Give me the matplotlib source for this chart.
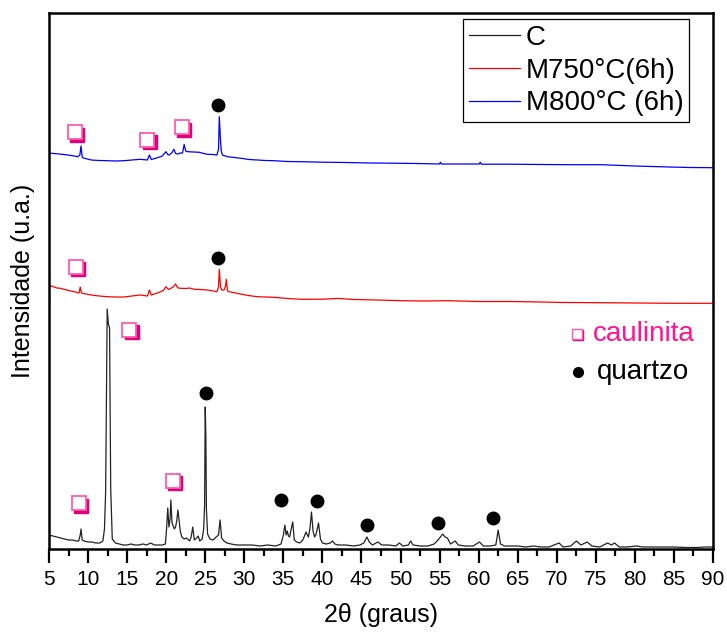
import matplotlib
matplotlib.use('Agg')
import matplotlib.pyplot as plt
from matplotlib.transforms import offset_copy
from matplotlib.ticker import MultipleLocator

plt.rcParams['font.family'] = ['Liberation Sans', 'DejaVu Sans']

# ---------------- data (2theta, intensity in arbitrary offset units) -------------
c_pts = [
    (5.0, 14), (5.5, 13), (6.0, 12), (6.5, 11), (7.0, 10), (7.5, 9), (8.0, 9), (8.5, 8), (8.8, 8), (9.0, 14),
    (9.1, 20), (9.25, 9), (9.5, 8), (10.0, 7), (10.5, 7), (11.0, 6), (11.5, 6), (11.9, 8), (12.1, 20), (12.25, 57),
    (12.45, 240), (12.6, 225), (12.75, 221), (12.9, 60), (13.1, 10), (13.5, 6), (14.0, 5), (14.5, 4), (15.0, 4), (15.5, 5),
    (16.0, 4), (16.5, 4), (17.0, 5), (17.5, 4), (18.0, 6), (18.5, 4), (19.0, 4), (19.5, 4), (19.9, 5), (20.05, 20),
    (20.2, 41), (20.35, 22), (20.5, 30), (20.6, 49), (20.75, 26), (20.9, 23), (21.05, 20), (21.2, 22), (21.35, 28), (21.5, 39),
    (21.65, 29), (21.8, 18), (22.0, 12), (22.3, 10), (22.6, 11), (23.0, 8), (23.2, 12), (23.4, 22), (23.6, 9), (23.9, 11),
    (24.1, 13), (24.3, 8), (24.6, 10), (24.8, 20), (24.92, 44), (25.0, 142), (25.08, 112), (25.15, 40), (25.3, 15), (25.6, 10),
    (26.0, 9), (26.4, 12), (26.7, 14), (26.9, 29), (27.1, 11), (27.4, 8), (27.8, 6), (28.3, 5), (29.0, 4), (30.0, 4),
    (31.0, 4), (32.0, 3), (33.0, 4), (34.0, 3), (34.7, 5), (35.0, 14), (35.2, 24), (35.35, 14), (35.5, 18), (35.65, 13),
    (35.8, 12), (36.0, 20), (36.2, 27), (36.4, 9), (36.7, 7), (37.1, 6), (37.5, 9), (37.9, 17), (38.2, 12), (38.4, 20),
    (38.6, 37), (38.8, 18), (39.0, 12), (39.2, 15), (39.5, 26), (39.75, 10), (40.0, 6), (40.5, 5), (41.0, 6), (41.3, 8),
    (41.6, 5), (42.0, 4), (43.0, 4), (44.0, 3), (44.8, 4), (45.3, 6), (45.7, 12), (46.0, 7), (46.4, 4), (47.1, 7),
    (47.6, 4), (48.5, 4), (49.4, 3), (49.85, 6), (50.3, 3), (51.0, 4), (51.3, 8), (51.6, 4), (52.5, 3), (53.5, 3),
    (54.3, 5), (54.8, 9), (55.2, 13), (55.4, 15), (55.7, 12), (56.0, 11), (56.4, 5), (57.0, 8), (57.4, 4), (58.3, 3),
    (59.3, 3), (60.1, 7), (60.6, 3), (61.5, 3), (62.2, 4), (62.5, 19), (62.8, 5), (63.3, 3), (64.0, 3), (65.0, 3),
    (66.0, 2), (67.0, 3), (68.0, 2), (69.0, 2), (70.3, 6), (70.8, 2), (71.8, 3), (72.5, 8), (73.1, 4), (73.9, 7),
    (74.5, 3), (75.5, 2), (76.5, 6), (77.0, 4), (77.4, 6), (78.0, 2), (79.0, 2), (80.2, 3), (81.0, 2), (82.0, 2),
    (83.5, 2), (85.0, 2), (86.5, 1.5), (88.0, 1.5), (89.0, 2), (90.0, 2),
]

m750_pts = [
    (5.0, 263), (5.3, 263), (6.0, 261), (6.5, 260.7), (7.0, 259.5), (7.5, 258.5), (8.2, 257.3), (8.85, 256), (9.0, 262), (9.15, 256),
    (9.4, 255.5), (10.4, 254), (11.4, 253), (12.5, 252.3), (13.5, 252), (14.6, 252), (15.6, 253), (16.7, 254), (17.6, 253), (17.85, 259),
    (18.1, 254), (18.7, 255.5), (19.3, 257.3), (19.7, 259), (19.97, 262.3), (20.3, 259.5), (20.6, 260.7), (20.9, 262), (21.2, 265), (21.5, 261),
    (21.9, 260.7), (22.5, 260.5), (23.0, 261), (23.6, 259.7), (24.3, 259.5), (25.3, 259), (26.0, 258), (26.5, 257.3), (26.7, 262), (26.8, 279.7),
    (26.95, 263), (27.1, 259), (27.4, 259), (27.6, 263), (27.7, 269.7), (27.85, 258), (28.2, 257), (28.7, 256.3), (29.5, 255), (30.5, 253.5),
    (31.7, 252.3), (32.7, 252), (33.8, 251.7), (35.5, 250.5), (37.3, 249.7), (40.0, 249.8), (42.0, 250.6), (44.0, 249.5), (47.0, 249), (50.1, 248.3),
    (53.0, 248), (56.0, 248.3), (60.0, 247.5), (64.0, 247.5), (68.0, 247), (71.0, 246.5), (75.7, 246.3), (80.0, 246), (85.0, 245.7), (90.0, 245.7),
]

m800_pts = [
    (5.0, 396), (5.3, 395.7), (6.3, 395), (7.4, 394), (8.2, 393), (8.7, 392.3), (8.95, 394), (9.1, 403), (9.25, 392), (9.4, 391),
    (10.4, 389), (11.4, 388.5), (12.5, 388.3), (13.5, 388), (14.6, 388.3), (15.6, 389), (16.7, 389.7), (17.6, 389), (17.85, 394), (18.1, 389.5),
    (18.9, 391.3), (19.5, 393), (19.97, 397.3), (20.2, 394.5), (20.4, 394), (20.7, 396), (21.0, 399.7), (21.2, 395.5), (21.5, 395), (21.8, 396),
    (22.1, 396), (22.3, 404.7), (22.5, 398), (22.75, 397.3), (23.5, 397), (24.25, 396.7), (24.8, 395.5), (25.3, 394.7), (26.0, 394.5), (26.5, 394),
    (26.7, 400), (26.8, 432.3), (26.95, 409), (27.05, 398), (27.2, 394), (27.85, 392.3), (28.7, 391.5), (29.6, 390.7), (30.6, 389.5), (31.7, 389),
    (32.7, 388.5), (33.8, 388.3), (35.5, 387.5), (37.3, 387.3), (40.0, 386.8), (43.0, 386.5), (46.0, 386), (49.0, 385.8), (52.0, 385.5), (55.0, 385),
    (55.1, 386.8), (55.25, 385), (58.0, 385), (60.1, 385), (60.2, 386.8), (60.35, 384.8), (64.0, 384.8), (68.0, 384.5), (72.0, 384.3), (75.7, 384.3),
    (80.0, 383), (84.4, 382), (87.0, 381.5), (90.0, 381.3),
]

series_labels = ['C', 'M750°C(6h)', 'M800°C (6h)']

# phase markers (2theta, intensity)
caulinita_x = [8.33, 17.6, 22.0, 8.46, 15.3, 20.85, 8.84]
caulinita_y = [416.7, 409, 421.7, 282.3, 219, 68.3, 45.7]
quartzo_x = [25.1, 34.67, 39.35, 45.75, 54.85, 61.9, 26.6, 26.6]
quartzo_y = [156.3, 49, 48, 24, 26.3, 31.3, 444, 290.7]

x_ticks = list(range(5, 91, 5))

# ---------------- figure -------------------------------------------------------
W, H = 727, 632
fig = plt.figure(figsize=(W / 100, H / 100), dpi=100)
ax = fig.add_axes([49 / W, 1 - 549 / H, 664 / W, 536 / H])

colors = ['#222222', '#FF0000', '#0000FF']
for pts, lab, col in zip([c_pts, m750_pts, m800_pts], series_labels, colors):
    xs = [p[0] for p in pts]
    ys = [p[1] for p in pts]
    ax.plot(xs, ys, color=col, lw=0.9, label=lab)

pink_edge = '#FF5CAD'
pink_shadow = '#E0007A'
shadow_tr = offset_copy(ax.transData, fig=fig, x=1.6, y=-1.6, units='points')
ax.plot(caulinita_x, caulinita_y, ls='none', marker='s', ms=10, mfc=pink_shadow,
        mec=pink_shadow, mew=1.0, transform=shadow_tr, zorder=4)
ax.plot(caulinita_x, caulinita_y, ls='none', marker='s', ms=10, mfc='white',
        mec=pink_edge, mew=1.3, zorder=5)
ax.plot(quartzo_x, quartzo_y, ls='none', marker='o', ms=9, mfc='black',
        mec='black', zorder=5)

# phase key
key_tr = offset_copy(ax.transAxes, fig=fig, x=1.0, y=-1.0, units='points')
ax.plot([0.795], [0.401], marker='s', ms=6.5, mfc=pink_shadow, mec=pink_shadow,
        transform=key_tr, clip_on=False, zorder=4)
ax.plot([0.795], [0.401], marker='s', ms=6.5, mfc='white', mec=pink_edge, mew=1.0,
        transform=ax.transAxes, clip_on=False, zorder=5)
ax.text(0.819, 0.401, 'caulinita', transform=ax.transAxes, color='#FF1493',
        fontsize=20, va='center', ha='left')
ax.plot([0.796], [0.330], marker='o', ms=7, mfc='black', mec='black',
        transform=ax.transAxes, zorder=5)
ax.text(0.825, 0.330, 'quartzo', transform=ax.transAxes, color='black',
        fontsize=20, va='center', ha='left')

ax.set_xlim(5, 90)
ax.set_ylim(0, 536)
ax.set_yticks([])
ax.set_xticks(x_ticks)
ax.xaxis.set_minor_locator(MultipleLocator(2.5))
ax.tick_params(axis='x', which='major', direction='out', length=10, width=1.6,
               labelsize=15, pad=5)
ax.tick_params(axis='x', which='minor', direction='out', length=5, width=1.6)
for s in ax.spines.values():
    s.set_linewidth(1.8)

ax.set_xlabel('2θ (graus)', fontsize=18, labelpad=10)
ax.set_ylabel('Intensidade (u.a.)', fontsize=18, labelpad=10)

leg = ax.legend(loc='upper right', bbox_to_anchor=(689 / W, 1 - 19 / H),
                bbox_transform=fig.transFigure, fontsize=20, frameon=True,
                fancybox=False, edgecolor='black', framealpha=1,
                handlelength=1.85, labelspacing=0.25, borderpad=0.2,
                handletextpad=0.2, borderaxespad=0)
leg.get_frame().set_linewidth(0.9)

fig.savefig('out.png', dpi=100)
